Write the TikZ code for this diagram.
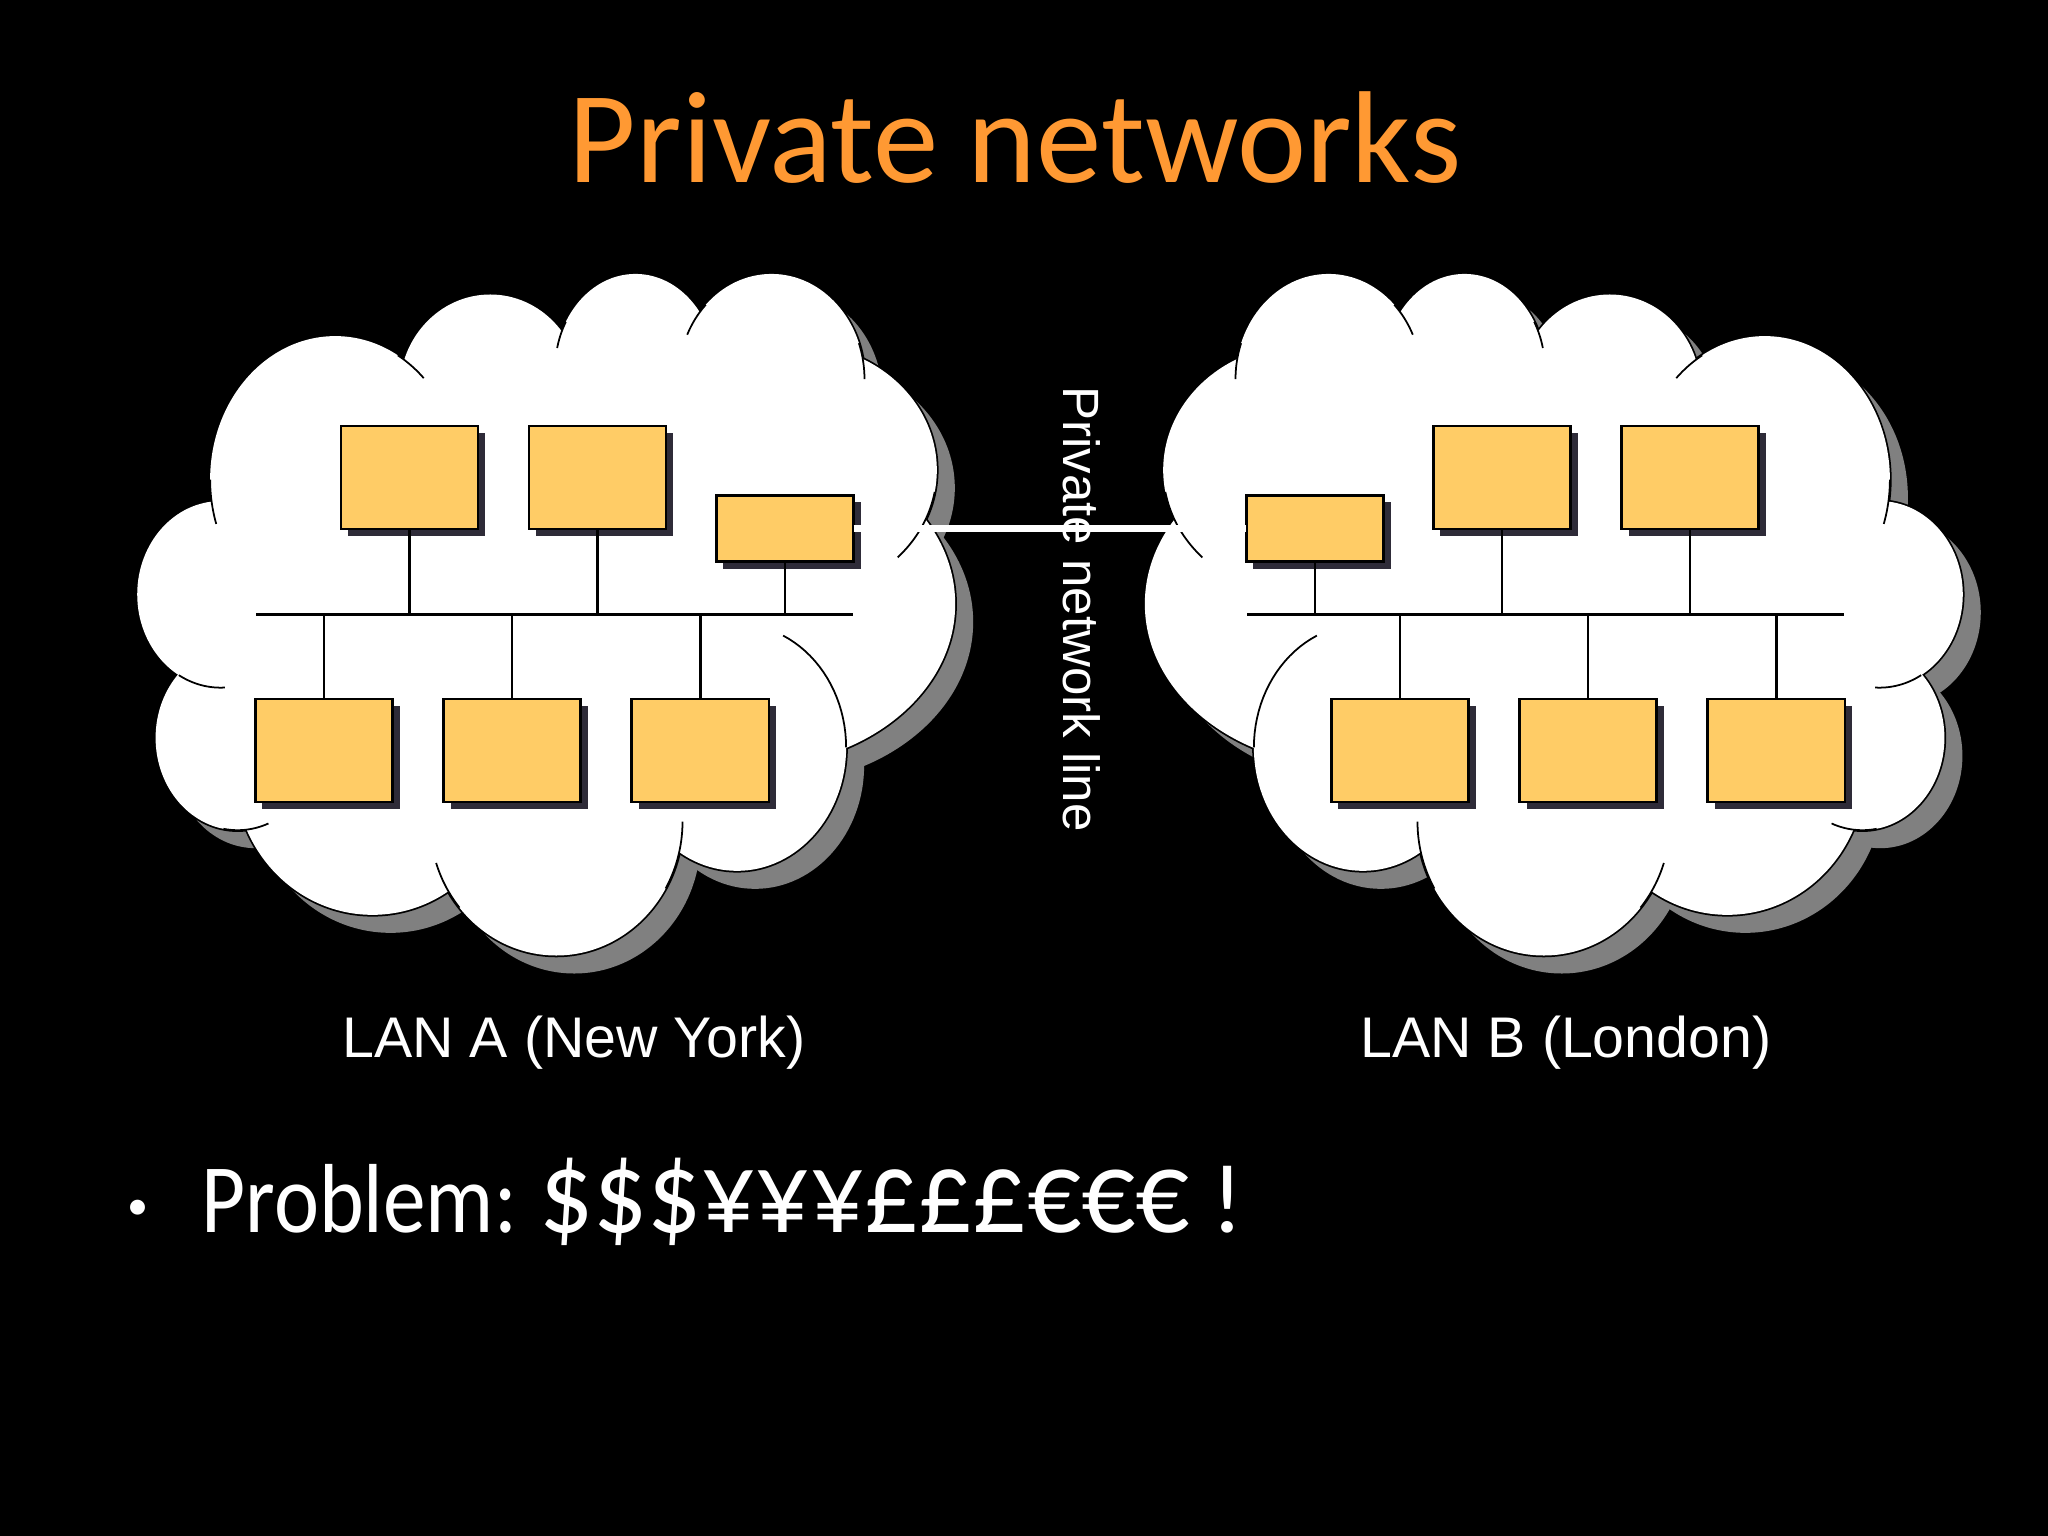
\documentclass[tikz,border=0pt]{standalone}
\usepackage{fontspec}
\usepackage{graphicx}
\setmainfont{Liberation Sans}
\newfontfamily\handfont{Carlito}
\usetikzlibrary{positioning,shadows}

\definecolor{titleorange}{HTML}{FF9933}
\definecolor{hostfill}{HTML}{FFCC66}
\definecolor{hostshade}{HTML}{2E2B38}
\definecolor{cloudshade}{HTML}{808080}

\tikzset{
  host/.style={draw=black, line width=.7pt, fill=hostfill, minimum width=1.37cm, minimum height=1.03cm,
    inner sep=0pt, outer sep=0pt, drop shadow={shadow xshift=.07cm, shadow yshift=-.07cm, fill=hostshade, opacity=1}},
  gateway/.style={host, minimum height=.66cm},
  wire/.style={draw=black, line width=.75pt},
  label/.style={text=white, font=\fontsize{16.3}{18}\selectfont, inner sep=0pt},
}

% lobes of a cloud: centre x/y, radius x/y
\newcommand{\cloudlobes}{700/700/420/400, 330/850/120/120, 1170/850/120/120, 375/480/218/300, 645/293/158/200, 898/250/140/200, 1135/270/162/220,
  1180/460/243/263, 1100/740/355/340, 1075/1040/190/258, 760/1195/220/280,
  440/1090/240/300, 205/1020/143/193, 175/720/145/195}
\newcommand{\cloudtails}{375/480/218/300/162/180, 375/480/218/300/-60/-45, 898/250/140/200/193/210,
  1135/270/162/220/205/225, 1135/270/162/220/-20/0, 1180/460/243/263/10/44,
  1075/1040/190/258/-65/0, 760/1195/220/280/140/162, 760/1195/220/280/0/30,
  205/1020/143/193/68/100, 175/720/145/195/87/120}

\newcommand{\drawcloud}[2]{
  \begin{scope}[shift={(#1+18,268)}, xscale=#2, yscale=.4783]
    \foreach \cx/\cy/\rx/\ry in \cloudlobes
      \fill[cloudshade] (\cx,\cy) ellipse [x radius=\rx, y radius=\ry];
  \end{scope}
  \begin{scope}[shift={(#1,250)}, xscale=#2, yscale=.4783]
    \foreach \cx/\cy/\rx/\ry in \cloudlobes
      \draw[black, line width=1pt] (\cx,\cy) ellipse [x radius=\rx, y radius=\ry];
    \foreach \cx/\cy/\rx/\ry in \cloudlobes
      \fill[white] (\cx,\cy) ellipse [x radius=\rx, y radius=\ry];
    \foreach \cx/\cy/\rx/\ry/\ta/\tb in \cloudtails
      \draw[black, line width=.5pt] plot[domain=\ta:\tb, samples=20] ({\cx+\rx*cos(\x)},{\cy+\ry*sin(\x)});
  \end{scope}
}

\begin{document}
\begin{tikzpicture}[x=.01cm, y=-.01cm]

  \fill[black] (0,0) rectangle (2048,1536);
  \useasboundingbox (0,0) rectangle (2048,1536);

  % Clouds
  \drawcloud{120}{.574}
  \drawcloud{1980}{-.574}

  % Title and labels
  \node[text=titleorange, font=\handfont\fontsize{37.2}{40}\selectfont, inner sep=0pt] (title) at (1015,138) {Private networks};
  \node[label] (lana) at (574,1043) {LAN A (New York)};
  \node[label] (lanb) at (1566,1043) {LAN B (London)};
  \node[text=white, font=\fontsize{14.5}{16}\selectfont, inner sep=0pt, rotate=-90] (linename) at (1082,609) {Private network line};
  \node[text=white, font=\handfont\fontsize{27.9}{30}\selectfont, inner sep=0pt, anchor=base west] (problem) at (127,1232) {\raisebox{3.5pt}{\fontsize{12}{12}\selectfont\textbullet}\hspace{15pt}\scalebox{.87}[1]{Problem:} \scalebox{1.09}[1.2]{\$\$\$¥¥¥£££€€€} !};

  % LAN A
  \node[host]                    (a1) at (409.5,477.5) {};
  \node[host, right=.51cm of a1] (a2) {};
  \node[gateway]                 (a3) at (785,528.5) {};
  \node[host]                    (a4) at (324,750.5) {};
  \node[host, right=.51cm of a4] (a5) {};
  \node[host, right=.51cm of a5] (a6) {};
  \coordinate (abusl) at (256,614.5);
  \coordinate (abusr) at (853,614.5);
  \draw[wire] (abusl) -- (abusr);
  \foreach \h in {a1,a2,a3} \draw[wire] (\h.south) -- (\h.south |- abusl);
  \foreach \h in {a4,a5,a6} \draw[wire] (\h.north) -- (\h.north |- abusl);

  % LAN B
  \node[gateway]                 (b3) at (1315,528.5) {};
  \node[host]                    (b1) at (1502,477.5) {};
  \node[host, right=.51cm of b1] (b2) {};
  \node[host]                    (b4) at (1400,750.5) {};
  \node[host, right=.51cm of b4] (b5) {};
  \node[host, right=.51cm of b5] (b6) {};
  \coordinate (bbusl) at (1247,614.5);
  \coordinate (bbusr) at (1844,614.5);
  \draw[wire] (bbusl) -- (bbusr);
  \foreach \h in {b1,b2,b3} \draw[wire] (\h.south) -- (\h.south |- bbusl);
  \foreach \h in {b4,b5,b6} \draw[wire] (\h.north) -- (\h.north |- bbusl);

  % Private line
  \draw[white, line width=1.75pt] (a3.east) -- (b3.west);

\end{tikzpicture}
\end{document}
